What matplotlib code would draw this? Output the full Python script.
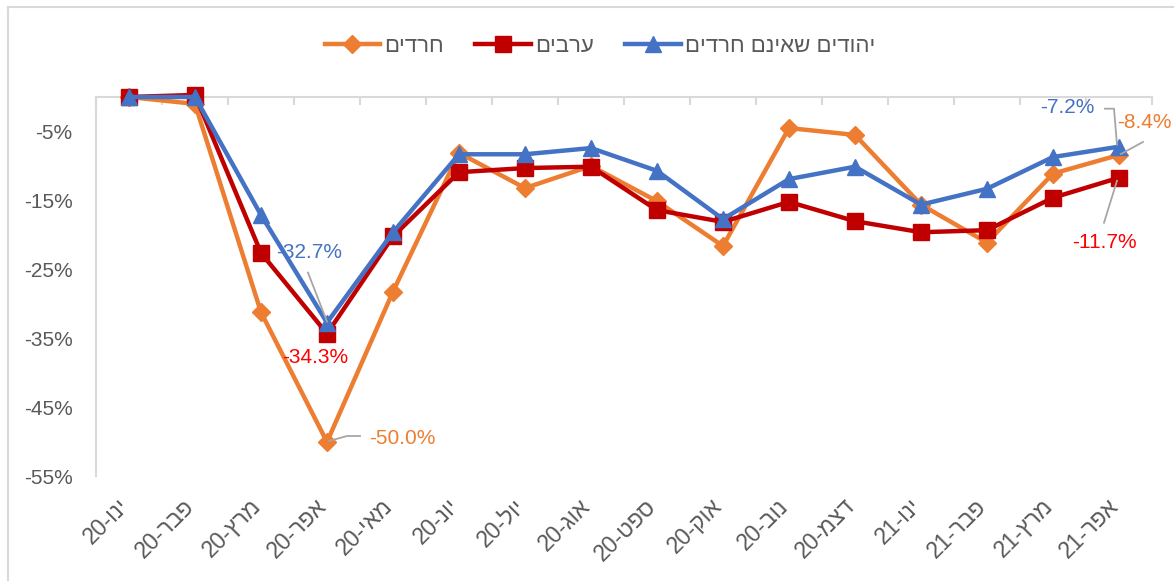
import matplotlib
matplotlib.use("Agg")
import matplotlib.pyplot as plt
from matplotlib.lines import Line2D
from matplotlib.transforms import ScaledTranslation, IdentityTransform
import re

plt.rcParams['font.family'] = ['Liberation Sans', 'DejaVu Sans']

# ---------------- data ----------------
months = ["ינו-20", "פבר-20", "מרץ-20", "אפר-20", "מאי-20", "יונ-20", "יול-20", "אוג-20",
          "ספט-20", "אוק-20", "נוב-20", "דצמ-20", "ינו-21", "פבר-21", "מרץ-21", "אפר-21"]
series_names = ["חרדים", "ערבים", "יהודים שאינם חרדים"]
haredim = [0.0, -1.0, -31.2, -50.0, -28.2, -8.1, -13.2, -10.0, -15.1, -21.6, -4.5, -5.5,
           -15.6, -21.1, -11.1, -8.4]
arabs = [0.0, 0.3, -22.6, -34.3, -20.2, -10.9, -10.3, -10.1, -16.4, -18.1, -15.2, -18.0,
         -19.6, -19.3, -14.6, -11.7]
jews = [0.0, 0.0, -17.1, -32.7, -19.6, -8.3, -8.3, -7.4, -10.7, -17.7, -11.9, -10.1,
        -15.6, -13.3, -8.7, -7.2]
yticks = [-5, -15, -25, -35, -45, -55]

colors = ["#ED7D31", "#C00000", "#4472C4"]
label_colors = ["#ED7D31", "#FF0000", "#4472C4"]
markers = ["D", "s", "^"]
msizes = [9, 11, 12]


def visual(s):
    """Simple RTL reordering for display (matplotlib has no bidi)."""
    r = s[::-1]
    return re.sub(r"[0-9.%]+", lambda m: m.group(0)[::-1], r)


W, H = 1174, 581
fig = plt.figure(figsize=(W / 100, H / 100), dpi=100)
ax = fig.add_axes([96 / W, 1 - 476.5 / H, (1152 - 96) / W, (476.5 - 97) / H])

x = list(range(len(months)))
data = [haredim, arabs, jews]
for i, vals in enumerate(data):
    ax.plot(x, vals, color=colors[i], lw=3.2, marker=markers[i], ms=msizes[i],
            markeredgecolor=colors[i], zorder=3 + i, clip_on=False)

ax.set_xlim(-0.5, len(months) - 0.5)
ax.set_ylim(-55, 0)

gray = "#D9D9D9"
for s in ["bottom", "right"]:
    ax.spines[s].set_visible(False)
ax.spines["top"].set_color(gray)
ax.spines["left"].set_color(gray)
ax.spines["top"].set_linewidth(1.5)
ax.spines["left"].set_linewidth(1.5)

ax.set_yticks(yticks)
ax.set_yticklabels([f"{v}%" for v in yticks], fontsize=15, color="#595959")
ax.tick_params(axis="y", length=0, pad=17)

ax.set_xticks(x)
ax.set_xticklabels([visual(m) for m in months], rotation=45, ha="right", va="top",
                   rotation_mode="anchor", fontsize=16.5, color="#595959")
ax.tick_params(axis="x", which="major", length=0, pad=13)
shift = ScaledTranslation(-12 / 100, 0, fig.dpi_scale_trans)
for lab in ax.get_xticklabels():
    lab.set_transform(lab.get_transform() + shift)
ax.set_xticks([i - 0.5 for i in range(len(months) + 1)], minor=True)
ax.tick_params(axis="x", which="minor", bottom=False, top=True, direction="in",
               length=6, width=1.5, color=gray)

# data labels: (series, index, text offset px (dx, dy), ha, leader vertices as px offsets)
ann = [
    (2, 3, (-18, 70), "center", [(-19, 50), (0, 1)]),
    (1, 3, (-12, -24), "center", None),
    (0, 3, (42, 4), "left", [(33, 6), (20, 6), (2, 1)]),
    (2, 15, (-52, 39), "center", [(-14, 38), (-5, 38), (-2, 2)]),
    (0, 15, (-2, 32), "left", [(24, 13), (2, 1)]),
    (1, 15, (-15, -65), "center", [(-15, -45), (-2, -3)]),
]
for si, idx, (dx, dy), ha, leader in ann:
    v = data[si][idx]
    ax.annotate(f"{v:.1f}%", xy=(idx, v), xytext=(dx, dy), textcoords="offset pixels",
                ha=ha, va="center", fontsize=15, color=label_colors[si], zorder=10,
                annotation_clip=False)
    if leader:
        px, py = ax.transData.transform((idx, v))
        fig.add_artist(Line2D([px + a for a, b in leader], [py + b for a, b in leader],
                              transform=IdentityTransform(), color="#A6A6A6", lw=1.3,
                              zorder=10))

# legend
handles = [Line2D([0], [0], color=colors[i], lw=3.2, marker=markers[i], ms=msizes[i])
           for i in range(3)]
fig.legend(handles, [visual(n) for n in series_names], loc="center",
           bbox_to_anchor=(600 / W, 1 - 46 / H), ncol=3, frameon=False, fontsize=16,
           handlelength=2.5, columnspacing=1.4, handletextpad=0.2,
           labelcolor="#595959")

# outer chart border
fig.add_artist(Line2D([7.5 / W, 1], [1 - 6.5 / H, 1 - 6.5 / H], color=gray, lw=1.5))
fig.add_artist(Line2D([7.5 / W, 7.5 / W], [0, 1 - 6.5 / H], color=gray, lw=1.5))

fig.savefig("out.png", dpi=100)
